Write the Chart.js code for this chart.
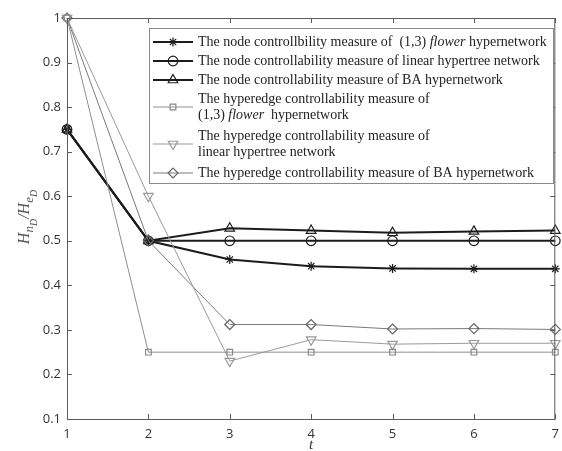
<!DOCTYPE html>
<html>
<head>
<meta charset="utf-8">
<script src="https://cdn.jsdelivr.net/npm/chart.js@4/dist/chart.umd.min.js"></script>
<style>
  html, body { margin: 0; padding: 0; background: #fff; }
  #wrap { width: 562px; height: 451px; }
</style>
</head>
<body>
<div id="wrap"><canvas id="chart" width="562" height="451"></canvas></div>
<script>
// Time steps t and controllability measures for each hypernetwork
const steps = [1, 2, 3, 4, 5, 6, 7];
const nodeFlower     = [0.75, 0.50, 0.458, 0.443, 0.438, 0.437, 0.437];
const nodeLinear     = [0.75, 0.50, 0.500, 0.500, 0.500, 0.500, 0.500];
const nodeBA         = [0.75, 0.50, 0.528, 0.523, 0.518, 0.521, 0.523];
const edgeFlower     = [1.00, 0.25, 0.250, 0.250, 0.250, 0.250, 0.250];
const edgeLinear     = [1.00, 0.60, 0.230, 0.278, 0.268, 0.270, 0.270];
const edgeBA         = [1.00, 0.50, 0.312, 0.312, 0.302, 0.303, 0.301];

const xTicks = [1, 2, 3, 4, 5, 6, 7];
const yTicks = [0.1, 0.2, 0.3, 0.4, 0.5, 0.6, 0.7, 0.8, 0.9, 1.0];

// Legend text: each entry is a list of lines, each line a list of [text, italic]
const legendLines = [
  [[['The node controllbility measure of  (1,3) ', false], ['flower', true], [' hypernetwork', false]]],
  [[['The node controllability measure of linear hypertree network', false]]],
  [[['The node controllability measure of BA hypernetwork', false]]],
  [[['The hyperedge controllability measure of', false]], [['(1,3) ', false], ['flower', true], ['  hypernetwork', false]]],
  [[['The hyperedge controllability measure of', false]], [['linear hypertree network', false]]],
  [[['The hyperedge controllability measure of BA hypernetwork', false]]]
];

const NODE = '#1c1c1c';
const EDGE = '#8f8f8f';

function series(values, color, width, style, radius, rotation, pointColor) {
  return {
    data: steps.map((t, i) => ({ x: t, y: values[i] })),
    borderColor: color,
    borderWidth: width,
    pointStyle: style,
    pointRadius: radius,
    pointRotation: rotation,
    pointBorderColor: pointColor || color,
    pointBorderWidth: 1.2,
    pointBackgroundColor: 'rgba(255,255,255,0)',
    tension: 0,
    clip: false
  };
}

// hyperedge series drawn underneath the node series
const datasets = [
  series(edgeFlower, EDGE, 1, 'rect', 4, 0, '#888'),
  series(edgeLinear, '#9a9a9a', 1, 'triangle', 5.5, 180, '#999'),
  series(edgeBA, '#7a7a7a', 1, 'rectRot', 5, 0, '#666'),
  series(nodeLinear, NODE, 2, 'circle', 4.8, 0),
  series(nodeBA, NODE, 2, 'triangle', 5.5, 0),
  series(nodeFlower, NODE, 2, 'star', 4.5, 0)
];

// legend lists the node series first
const legendOrder = [5, 3, 4, 0, 1, 2];

const frame = {
  id: 'frame',
  afterDatasetsDraw(chart) {
    const { ctx, chartArea: a, scales } = chart;
    ctx.save();
    // axes box
    ctx.strokeStyle = '#5a5a5a';
    ctx.lineWidth = 1;
    ctx.strokeRect(a.left + 0.5, a.top + 0.5, a.right - a.left - 1, a.bottom - a.top);
    // inward ticks on all four sides
    ctx.beginPath();
    xTicks.forEach(v => {
      const x = Math.round(scales.x.getPixelForValue(v)) + 0.5;
      ctx.moveTo(x, a.bottom); ctx.lineTo(x, a.bottom - 5);
      ctx.moveTo(x, a.top); ctx.lineTo(x, a.top + 5);
    });
    yTicks.forEach(v => {
      const y = Math.round(scales.y.getPixelForValue(v)) + 0.5;
      ctx.moveTo(a.left, y); ctx.lineTo(a.left + 5, y);
      ctx.moveTo(a.right, y); ctx.lineTo(a.right - 5, y);
    });
    ctx.stroke();

    // x axis title
    ctx.fillStyle = '#333';
    ctx.font = 'italic 15px "Liberation Serif"';
    ctx.textAlign = 'center';
    ctx.textBaseline = 'middle';
    ctx.fillText('t', (a.left + a.right) / 2, 445);

    // y axis title H_{n_D} / H_{e_D}, rotated
    ctx.translate(24, 217);
    ctx.rotate(-Math.PI / 2);
    ctx.textAlign = 'left';
    ctx.textBaseline = 'alphabetic';
    ctx.fillStyle = '#555';
    const parts = [
      ['H', 16, 0], ['n', 13, 4], ['D', 10, 8], ['/', 16, 0],
      ['H', 16, 0], ['e', 13, 4], ['D', 10, 8]
    ];
    let w = 0;
    parts.forEach(p => { ctx.font = 'italic ' + p[1] + 'px "Liberation Serif"'; w += ctx.measureText(p[0]).width; });
    let cx = -w / 2;
    parts.forEach(p => {
      ctx.font = 'italic ' + p[1] + 'px "Liberation Serif"';
      ctx.fillText(p[0], cx, 5 + p[2]);
      cx += ctx.measureText(p[0]).width;
    });
    ctx.restore();

    drawLegend(chart);
  }
};

function drawLegend(chart) {
  const { ctx } = chart;
  const box = { left: 149, top: 28, right: 553, bottom: 183 };
  ctx.save();
  ctx.fillStyle = '#fff';
  ctx.fillRect(box.left, box.top, box.right - box.left, box.bottom - box.top);
  ctx.strokeStyle = '#8a8a8a';
  ctx.lineWidth = 1;
  ctx.strokeRect(box.left + 0.5, box.top + 0.5, box.right - box.left, box.bottom - box.top);

  let y = 42;
  legendLines.forEach((lines, i) => {
    const ds = chart.data.datasets[legendOrder[i]];
    const my = lines.length > 1 ? y + 8 : y;
    ctx.strokeStyle = ds.borderColor;
    ctx.lineWidth = ds.borderWidth;
    ctx.beginPath();
    ctx.moveTo(153, my); ctx.lineTo(193, my);
    ctx.stroke();
    ctx.strokeStyle = ds.pointBorderColor;
    ctx.fillStyle = 'rgba(255,255,255,0)';
    ctx.lineWidth = ds.pointBorderWidth;
    Chart.helpers.drawPoint(ctx, {
      pointStyle: ds.pointStyle, radius: ds.pointRadius,
      rotation: ds.pointRotation, borderWidth: ds.pointBorderWidth
    }, 173, my);

    ctx.fillStyle = '#222';
    ctx.textBaseline = 'middle';
    ctx.textAlign = 'left';
    lines.forEach((segs, k) => {
      let x = 198;
      segs.forEach(([text, italic]) => {
        ctx.font = (italic ? 'italic ' : '') + '14px "Liberation Serif"';
        ctx.fillText(text, x, y + k * 16);
        x += ctx.measureText(text).width;
      });
    });
    y += lines.length > 1 ? 37 : 19;
  });
  ctx.restore();
}

new Chart(document.getElementById('chart'), {
  type: 'line',
  data: { datasets },
  options: {
    responsive: false,
    animation: false,
    events: [],
    layout: { padding: { top: 18, right: -3, left: 0, bottom: 0 } },
    plugins: { legend: { display: false }, tooltip: { enabled: false } },
    scales: {
      x: {
        type: 'linear', min: 1, max: 7,
        afterBuildTicks: s => { s.ticks = xTicks.map(v => ({ value: v })); },
        afterFit: s => { s.height = 32; s.paddingLeft = 0; s.paddingRight = 0; },
        grid: { display: false, drawTicks: false },
        border: { display: false },
        ticks: { padding: 7, color: '#333', font: { family: 'Open Sans', size: 13 } }
      },
      y: {
        type: 'linear', min: 0.1, max: 1.0,
        afterBuildTicks: s => { s.ticks = yTicks.map(v => ({ value: v })); },
        afterFit: s => { s.width = 67; s.paddingTop = 0; s.paddingBottom = 0; },
        grid: { display: false, drawTicks: false },
        border: { display: false },
        ticks: {
          padding: 6, color: '#333', font: { family: 'Open Sans', size: 13 },
          callback: v => (v >= 0.999 ? '1' : v.toFixed(1))
        }
      }
    }
  },
  plugins: [frame]
});
</script>
</body>
</html>
